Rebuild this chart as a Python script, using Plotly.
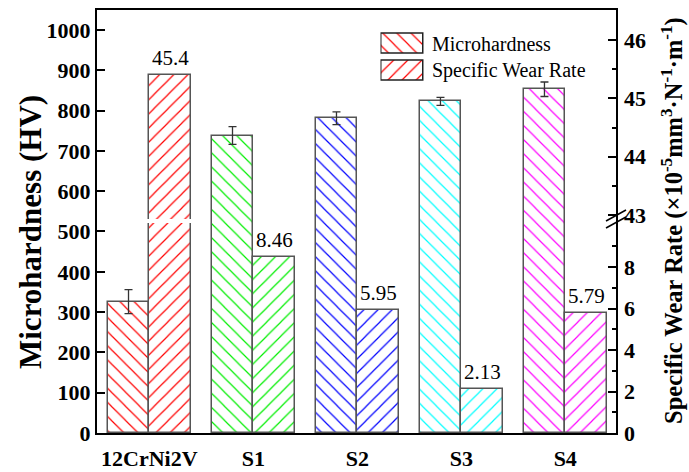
import plotly.graph_objects as go

# ---- data -------------------------------------------------------------
samples = ["12CrNi2V", "S1", "S2", "S3", "S4"]
microhardness = [326, 738, 781, 823, 853]          # HV
microhardness_err = [30, 22, 16, 10, 18]           # HV
wear_rate = [45.4, 8.46, 5.95, 2.13, 5.79]         # x10^-5 mm^3 N^-1 m^-1
hatch_colors = ["#ff0000", "#00ee00", "#0000ff", "#00ffff", "#ff00ff"]

# ---- page geometry (pixels) ------------------------------------------
W, H = 689, 472
ML, MR, MT, MB = 97, 73, 10, 39
PW, PH = W - ML - MR, H - MT - MB


def px_x(x):
    return (x - ML) / PW


def px_y(y):
    return (H - MB - y) / PH


SERIF = "Liberation Serif"
OUTLINE = "#555555"

fig = go.Figure()

# microhardness bars on the continuous left axis
fig.add_trace(go.Bar(
    x=samples, y=microhardness, offset=-0.4, width=0.4,
    marker=dict(color=hatch_colors, line=dict(color=OUTLINE, width=1.5),
                pattern=dict(shape="\\", fgcolor=hatch_colors, bgcolor="white",
                             fillmode="replace", size=10, solidity=0.12)),
    error_y=dict(type="data", array=microhardness_err, color="#333333",
                 thickness=1.3, width=4),
    showlegend=False, xaxis="x", yaxis="y",
))

# wear-rate bars: lower segment (0-10) and upper segment (43-46.5) of the broken axis
for ax in ("y2", "y3"):
    fig.add_trace(go.Bar(
        x=samples, y=wear_rate, offset=0.0, width=0.4,
        marker=dict(color=hatch_colors, line=dict(color=OUTLINE, width=1.5),
                    pattern=dict(shape="/", fgcolor=hatch_colors, bgcolor="white",
                                 fillmode="replace", size=10, solidity=0.12)),
        showlegend=False, xaxis="x", yaxis=ax,
    ))

# legend swatches drawn as hatched bars in a small hidden subplot
for yv, shape in ((1, "\\"), (0, "/")):
    fig.add_trace(go.Bar(
        x=[1], y=[yv], orientation="h", width=0.76,
        marker=dict(color="#ff0000", line=dict(color="#222222", width=1.5),
                    pattern=dict(shape=shape, fgcolor="#ff0000", bgcolor="white",
                                 fillmode="replace", size=10, solidity=0.12)),
        showlegend=False, xaxis="x2", yaxis="y4", hoverinfo="skip",
    ))

tick_font = dict(family=SERIF, size=22, color="black", weight="bold")

lower_top_px, upper_bot_px = 223, 219

fig.update_layout(
    width=W, height=H, margin=dict(l=ML, r=MR, t=MT, b=MB, autoexpand=False),
    paper_bgcolor="white", plot_bgcolor="rgba(0,0,0,0)",
    barmode="overlay", bargap=0,
    xaxis=dict(
        domain=[0, 1], anchor="y", range=[-0.503, 4.488], automargin=False,
        showline=True, linecolor="black", linewidth=2, mirror=True,
        ticks="", showgrid=False, zeroline=False,
        tickfont=dict(family=SERIF, size=22, color="black", weight="bold"),
        ticklabelstandoff=5,
    ),
    yaxis=dict(
        domain=[0, 1], anchor="x", range=[0, 1049.6], automargin=False,
        tickmode="linear", tick0=0, dtick=100,
        ticks="inside", ticklen=8, tickwidth=1.5, tickcolor="black",
        showline=True, linecolor="black", linewidth=2, mirror=True,
        showgrid=False, zeroline=False, tickfont=tick_font,
    ),
    yaxis2=dict(
        domain=[0, px_y(lower_top_px)], anchor="x", side="right", automargin=False,
        range=[0, (H - MB - lower_top_px) / 20.75],
        tickvals=[0, 2, 4, 6, 8], ticklabelstandoff=7,
        ticks="inside", ticklen=8, tickwidth=1.5, tickcolor="black",
        minor=dict(tickvals=[1, 3, 5, 7, 9], ticks="inside", ticklen=4,
                   tickwidth=1.5, tickcolor="black"),
        showline=False, showgrid=False, zeroline=False, tickfont=tick_font,
    ),
    yaxis3=dict(
        domain=[px_y(upper_bot_px), 1], anchor="x", side="right", automargin=False,
        range=[43 - (upper_bot_px - 215) / 58.3, 43 + (215 - MT) / 58.3],
        tickvals=[43, 44, 45, 46], ticklabelstandoff=7,
        ticks="inside", ticklen=8, tickwidth=1.5, tickcolor="black",
        minor=dict(tickvals=[43.5, 44.5, 45.5], ticks="inside", ticklen=4,
                   tickwidth=1.5, tickcolor="black"),
        showline=False, showgrid=False, zeroline=False, tickfont=tick_font,
    ),
    xaxis2=dict(domain=[px_x(380.5), px_x(424.3)], anchor="y4",
                range=[-0.03, 1.03], visible=False),
    yaxis4=dict(domain=[px_y(83.6), px_y(30.8)], anchor="x2",
                range=[-0.5, 1.5], visible=False),
)

annotations = []

# value labels above the wear-rate bars
for i, v in enumerate(wear_rate):
    annotations.append(dict(
        x=i + 0.2, y=v, xref="x", yref="y3" if v > 40 else "y2",
        text=f"{v}", showarrow=False, xanchor="center", yanchor="bottom",
        yshift=3, font=dict(family=SERIF, size=21, color="black"),
    ))

# legend labels
for label, ypx in (("Microhardness", 44), ("Specific Wear Rate", 70.4)):
    annotations.append(dict(
        x=px_x(430), y=px_y(ypx), xref="paper", yref="paper",
        text=label, showarrow=False, xanchor="left", yanchor="middle",
        font=dict(family=SERIF, size=20, color="black"),
    ))

# axis titles
annotations.append(dict(
    x=px_x(30), y=px_y(232), xref="paper", yref="paper",
    text="Microhardness (HV)", textangle=-90, showarrow=False,
    xanchor="center", yanchor="middle",
    font=dict(family=SERIF, size=31, color="black", weight="bold"),
))
annotations.append(dict(
    x=px_x(672), y=px_y(221), xref="paper", yref="paper",
    text="Specific Wear Rate (×10<sup>-5</sup>mm<sup>3</sup>·N<sup>-1</sup>·m<sup>-1</sup>)",
    textangle=-90, showarrow=False, xanchor="center", yanchor="middle",
    font=dict(family=SERIF, size=24.5, color="black", weight="bold"),
))
fig.update_layout(annotations=annotations)

# break marks on the right axis
shapes = []
for dy in (0, 7):
    shapes.append(dict(
        type="line", xref="paper", yref="paper",
        x0=px_x(606), y0=px_y(221 + dy), x1=px_x(626), y1=px_y(210 + dy),
        line=dict(color="black", width=1.5),
    ))
fig.update_layout(shapes=shapes)

fig.write_html("out.html")
